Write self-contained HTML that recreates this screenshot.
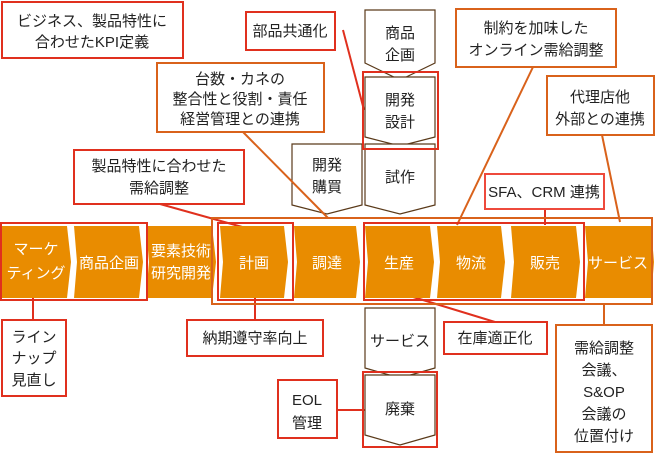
<!DOCTYPE html>
<html><head><meta charset="utf-8"><style>
html,body{margin:0;padding:0;background:#fff;}
svg{display:block;}
text{font-family:"Liberation Sans","Noto Sans CJK JP",sans-serif;font-size:15px;fill:#222;text-anchor:middle;}
.w{fill:#fff;}
</style></head><body>
<svg width="655" height="454" viewBox="0 0 655 454" xmlns="http://www.w3.org/2000/svg">
<g stroke-width="2" fill="none">
<line x1="343" y1="30" x2="364" y2="110" stroke="#e0301e"/>
<line x1="160" y1="204" x2="253" y2="230" stroke="#e0301e"/>
<line x1="533" y1="67" x2="457" y2="225" stroke="#d9621b"/>
<line x1="602" y1="135" x2="620" y2="222" stroke="#d9621b"/>
<line x1="545" y1="209" x2="545" y2="225" stroke="#e0301e"/>
<line x1="33" y1="298" x2="33" y2="320" stroke="#e0301e"/>
<line x1="255" y1="298" x2="255" y2="320" stroke="#e0301e"/>
<line x1="400" y1="293" x2="495" y2="322" stroke="#e0301e"/>
<line x1="604" y1="304" x2="604" y2="325" stroke="#d9621b"/>
<line x1="337" y1="410" x2="365" y2="410" stroke="#e0301e"/>
</g>
<g fill="#e98c00">
<polygon points="2,226 67,226 71,262 67,298 2,298"/>
<polygon points="74,226 139,226 143,262 139,298 74,298 77,262"/>
<polygon points="146,226 212,226 216,262 212,298 146,298 149,262"/>
<polygon points="220,226 284,226 288,262 284,298 220,298 223,262"/>
<polygon points="294,226 356,226 360,262 356,298 294,298 297,262"/>
<polygon points="365,226 430,226 434,262 430,298 365,298 368,262"/>
<polygon points="437,226 501,226 505,262 501,298 437,298 440,262"/>
<polygon points="511,226 576,226 580,262 576,298 511,298 514,262"/>
<polygon points="585,226 651,226 654,262 651,298 585,298 588,262"/>
</g>
<g>
<text class="w" x="36" y="254">マーケ</text><text class="w" x="36" y="278">ティング</text>
<text class="w" x="109" y="268">商品企画</text>
<text class="w" x="181" y="256">要素技術</text><text class="w" x="181" y="278">研究開発</text>
<text class="w" x="254" y="268">計画</text>
<text class="w" x="327" y="268">調達</text>
<text class="w" x="399" y="268">生産</text>
<text class="w" x="471" y="268">物流</text>
<text class="w" x="545" y="268">販売</text>
<text class="w" x="618" y="268">サービス</text>
</g>
<rect x="212" y="218" width="440" height="86" fill="none" stroke="#d9621b" stroke-width="2"/>
<rect x="1" y="223" width="146" height="77" fill="none" stroke="#e0301e" stroke-width="2"/>
<rect x="218" y="223" width="75" height="77" fill="none" stroke="#e0301e" stroke-width="2"/>
<rect x="364" y="223" width="220" height="77" fill="none" stroke="#e0301e" stroke-width="2"/>
<g fill="#fff" stroke="#5a3a1a" stroke-width="1.2">
<polygon points="365,10 435,10 435,63 400,80 365,63"/>
<polygon points="365,77 435,77 435,137 400,146 365,137"/>
<polygon points="365,144 435,144 435,205 400,214 365,205"/>
<polygon points="292,144 362,144 362,205 327,214 292,205"/>
<polygon points="365,308 435,308 435,368 400,378 365,368"/>
<polygon points="365,375 435,375 435,435 400,445 365,435"/>
</g>
<line x1="243" y1="132" x2="328" y2="218" stroke="#d9621b" stroke-width="2"/>
<rect x="363" y="72" width="75" height="77" fill="none" stroke="#e0301e" stroke-width="2"/>
<rect x="363" y="372" width="74" height="75" fill="none" stroke="#e0301e" stroke-width="2"/>
<text x="400" y="38">商品</text><text x="400" y="60">企画</text>
<text x="400" y="105">開発</text><text x="400" y="127">設計</text>
<text x="400" y="182">試作</text>
<text x="327" y="170">開発</text><text x="327" y="192">購買</text>
<text x="400" y="346">サービス</text>
<text x="400" y="414">廃棄</text>
<g fill="#fff" stroke-width="2">
<rect x="2" y="2" width="181" height="56" stroke="#e0301e"/>
<rect x="246" y="12" width="89" height="38" stroke="#e0301e"/>
<rect x="157" y="63" width="167" height="69" stroke="#d9621b"/>
<rect x="74" y="150" width="170" height="54" stroke="#e0301e"/>
<rect x="456" y="9" width="160" height="58" stroke="#d9621b"/>
<rect x="547" y="76" width="107" height="59" stroke="#d9621b"/>
<rect x="485" y="174" width="119" height="35" stroke="#ee4a3c"/>
<rect x="2" y="320" width="64" height="76" stroke="#e0301e"/>
<rect x="187" y="320" width="136" height="36" stroke="#e0301e"/>
<rect x="444" y="322" width="103" height="32" stroke="#e0301e"/>
<rect x="556" y="325" width="96" height="127" stroke="#d9621b"/>
<rect x="278" y="380" width="59" height="58" stroke="#e0301e"/>
</g>
<text x="92" y="26">ビジネス、製品特性に</text><text x="92" y="47">合わせたKPI定義</text>
<text x="290" y="36">部品共通化</text>
<text x="240" y="84">台数・カネの</text><text x="240" y="104">整合性と役割・責任</text><text x="240" y="124">経営管理との連携</text>
<text x="159" y="171">製品特性に合わせた</text><text x="159" y="193">需給調整</text>
<text x="536" y="33">制約を加味した</text><text x="536" y="55">オンライン需給調整</text>
<text x="600" y="102">代理店他</text><text x="600" y="124">外部との連携</text>
<text x="544" y="197">SFA、CRM 連携</text>
<text x="34" y="342">ライン</text><text x="34" y="363">ナップ</text><text x="34" y="385">見直し</text>
<text x="255" y="343">納期遵守率向上</text>
<text x="495" y="343">在庫適正化</text>
<text x="604" y="353">需給調整</text><text x="604" y="375">会議、</text><text x="604" y="397">S&amp;OP</text><text x="604" y="419">会議の</text><text x="604" y="441">位置付け</text>
<text x="307" y="405">EOL</text><text x="307" y="428">管理</text>
</svg>
</body></html>
